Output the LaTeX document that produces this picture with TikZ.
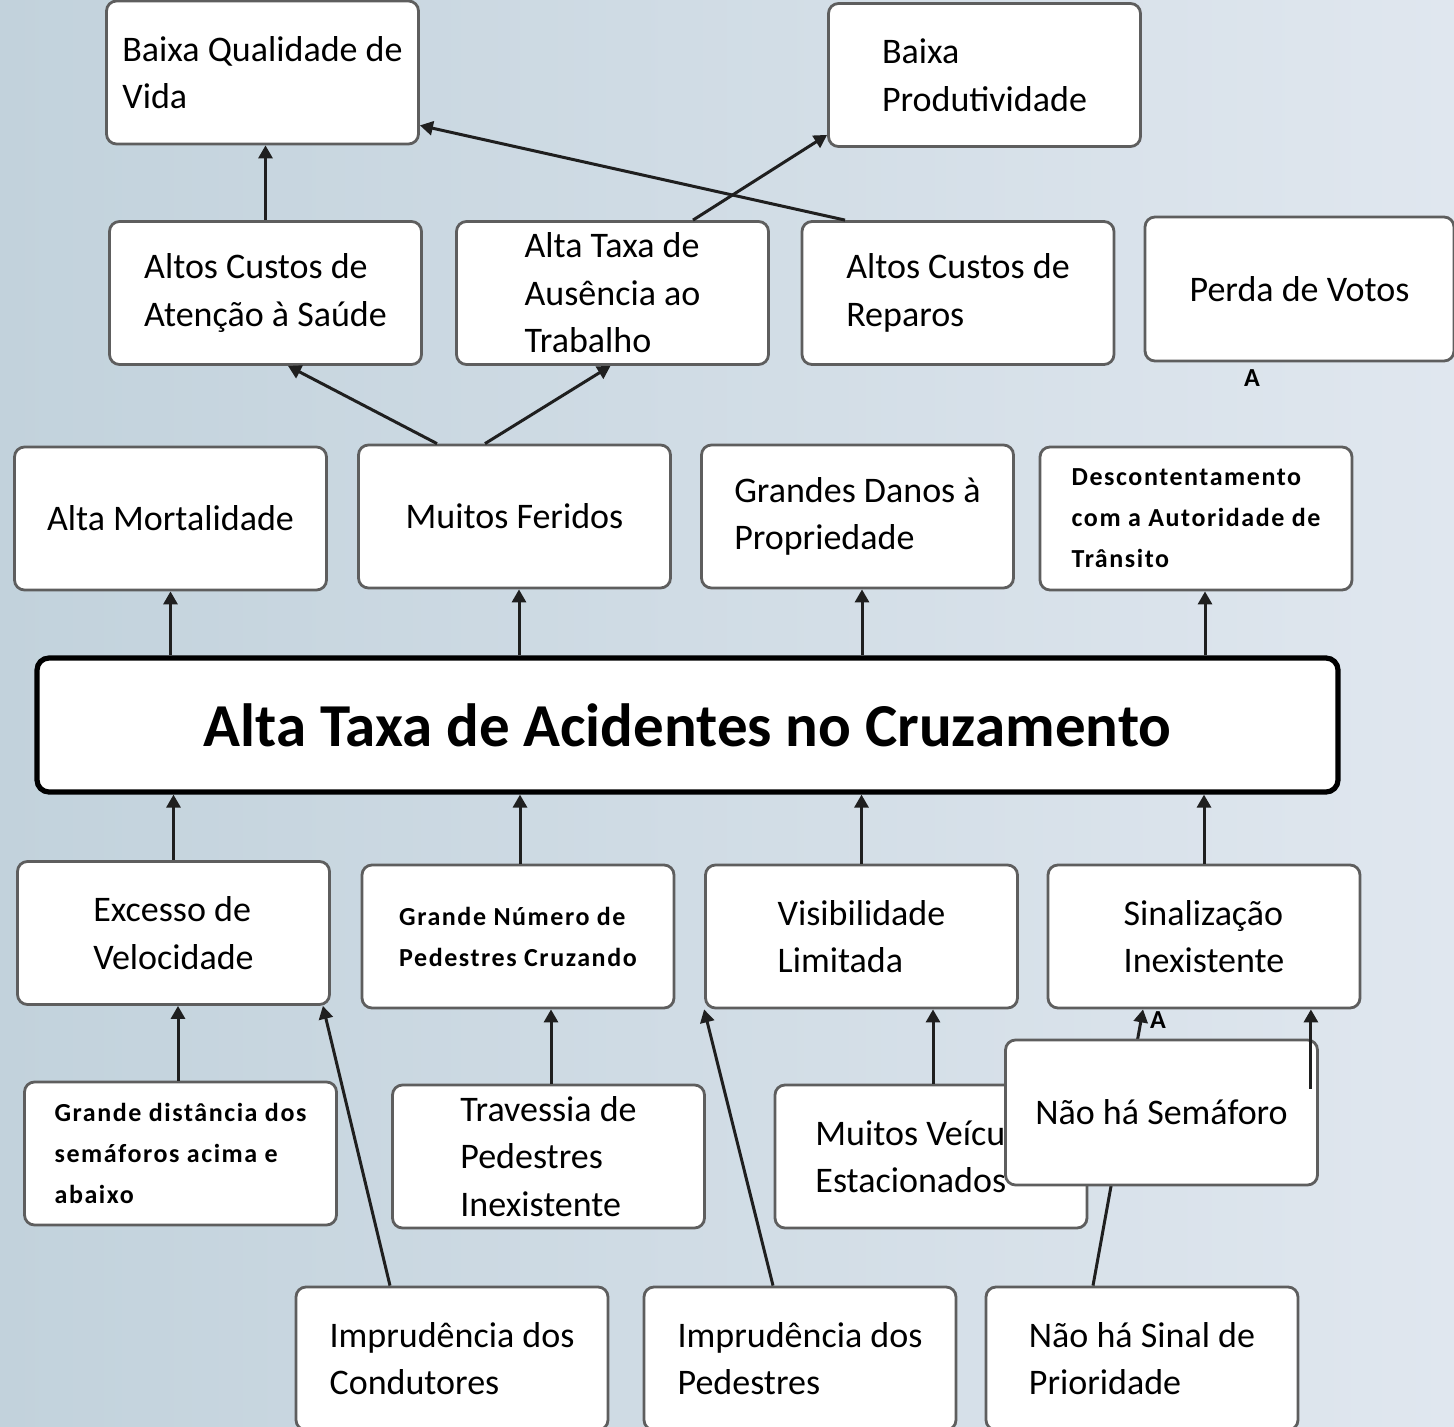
\documentclass[tikz,border=0pt]{standalone}
\usepackage{fontspec}
\setmainfont{Carlito}
\usetikzlibrary{arrows.meta}
\definecolor{bgL}{HTML}{C2D2DC}
\definecolor{bgR}{HTML}{E0E7EF}
\definecolor{edgegray}{HTML}{5E5E5E}
\tikzset{
  box/.style={draw=edgegray, line width=1.4pt, fill=white, rounded corners=5pt,
    align=left, inner sep=0pt, anchor=center,
    font=\fontsize{18}{23.8}\selectfont},
  std/.style={minimum width=156pt, minimum height=71.5pt},
  smallfont/.style={font=\fontsize{13}{20.5}\selectfont\bfseries\addfontfeatures{LetterSpace=6}},
  mainbox/.style={draw=black, line width=2.6pt, fill=white, rounded corners=6pt,
    inner sep=0pt, font=\fontsize{30.5}{36}\selectfont\bfseries},
  conn/.style={line width=1.5pt, draw=black!88, -{Triangle[width=7pt,length=6.5pt]}},
  amark/.style={inner sep=0pt, font=\fontsize{13}{13}\selectfont\bfseries},
}
\begin{document}
\begin{tikzpicture}[x=0.5pt, y=-0.5pt]
\useasboundingbox (0,0) rectangle (1454,1427);
\fill[left color=bgL, right color=bgR] (0,0) rectangle (1454,1427);

% top rows
\node[box,std] (B1) at (262.5,72.5) {Baixa Qualidade de\\Vida};
\node[box,std] (B2) at (984.5,75) {Baixa\\Produtividade};
\node[box,std] (C1) at (265.5,293) {Altos Custos de\\Atenção à Saúde};
\node[box,std] (C2) at (612.5,293) {Alta Taxa de\\Ausência ao\\Trabalho};
\node[box,std] (C3) at (958,293) {Altos Custos de\\Reparos};
\node[box,std,minimum height=72pt,minimum width=154.5pt] (C4) at (1299.5,289) {Perda de Votos};
\node[amark] (A1) at (1252,378) {A};

\node[box,std] (D1) at (170.5,518.5) {Alta Mortalidade};
\node[box,std] (D2) at (514.5,516.5) {Muitos Feridos};
\node[box,std] (D3) at (857.5,516.5) {Grandes Danos à\\Propriedade};
\node[box,std,smallfont] (D4) at (1196,518.5) {Descontentamento\\com a Autoridade de\\Trânsito};

\node[mainbox, minimum width=650.5pt, minimum height=67pt] (M) at (687.5,725) {Alta Taxa de Acidentes no Cruzamento};

\node[box,std] (E1) at (173.5,933) {Excesso de\\Velocidade};
\node[box,std,smallfont] (E2) at (518,936.5) {Grande Número de\\Pedestres Cruzando};
\node[box,std] (E3) at (861.5,936.5) {Visibilidade\\Limitada};
\node[box,std] (E4) at (1204,936.5) {Sinalização\\Inexistente};

\node[box,std,smallfont] (F1) at (180.5,1153.5) {Grande distância dos\\semáforos acima e\\abaixo};
\node[box,std] (F2) at (548.5,1156.5) {Travessia de\\Pedestres\\Inexistente};
\node[box,std] (F3) at (931,1156.5) {Muitos Veículos\\Estacionados};

\node[box,std] (G1) at (452,1358.5) {Imprudência dos\\Condutores};
\node[box,std] (G2) at (800,1358.5) {Imprudência dos\\Pedestres};
\node[box,std] (G3) at (1142,1358.5) {Não há Sinal de\\Prioridade};

% connector hidden behind "Não há Semáforo"
\draw[conn] ([xshift=-24.5pt]G3.north) -- ([xshift=-30.5pt]E4.south);
\node[box,std,minimum height=72.5pt] (F4) at (1161.5,1112.5) {Não há Semáforo};
\node[amark] (A2) at (1158,1020) {A};

% connectors, top part
\draw[conn] (C1.north) -- (C1.north |- B1.south);
\draw[conn] ([xshift=-56.5pt]C3.north) -- ([yshift=10pt]B1.south east);
\draw[conn] ([xshift=40.25pt]C2.north) -- ([yshift=6.5pt]B2.south west);
\draw[conn] ([xshift=-38.75pt]D2.north) -- ([xshift=11.25pt]C1.south);
\draw[conn] ([xshift=-14.75pt]D2.north) -- ([xshift=-1pt]C2.south);

\draw[conn] (M.north -| D1.south) -- (D1.south);
\draw[conn] ([xshift=2.25pt]M.north -| D2.south) -- ([xshift=2.25pt]D2.south);
\draw[conn] ([xshift=2.25pt]M.north -| D3.south) -- ([xshift=2.25pt]D3.south);
\draw[conn] ([xshift=4.5pt]M.north -| D4.south) -- ([xshift=4.5pt]D4.south);

\draw[conn] (E1.north) -- (E1.north |- M.south);
\draw[conn] ([xshift=1pt]E2.north) -- ([xshift=1pt]E2.north |- M.south);
\draw[conn] (E3.north) -- (E3.north |- M.south);
\draw[conn] (E4.north) -- (E4.north |- M.south);

% connectors, bottom part
\draw[conn] ([xshift=-1.25pt]F1.north) -- ([xshift=-1.25pt]F1.north |- E1.south);
\draw[conn] ([xshift=-31pt]G1.north) -- ([xshift=-4pt]E1.south east);
\draw[conn] ([xshift=1.25pt]F2.north) -- ([xshift=1.25pt]F2.north |- E2.south);
\draw[conn] ([xshift=-13.5pt]G2.north) -- (E3.south west);
\draw[conn] ([xshift=1pt]F3.north) -- ([xshift=1pt]F3.north |- E3.south);
\coordinate (F4r) at ([xshift=-4pt,yshift=12pt]F4.east);
\draw[conn] (F4r) -- (F4r |- E4.south);
\end{tikzpicture}
\end{document}
